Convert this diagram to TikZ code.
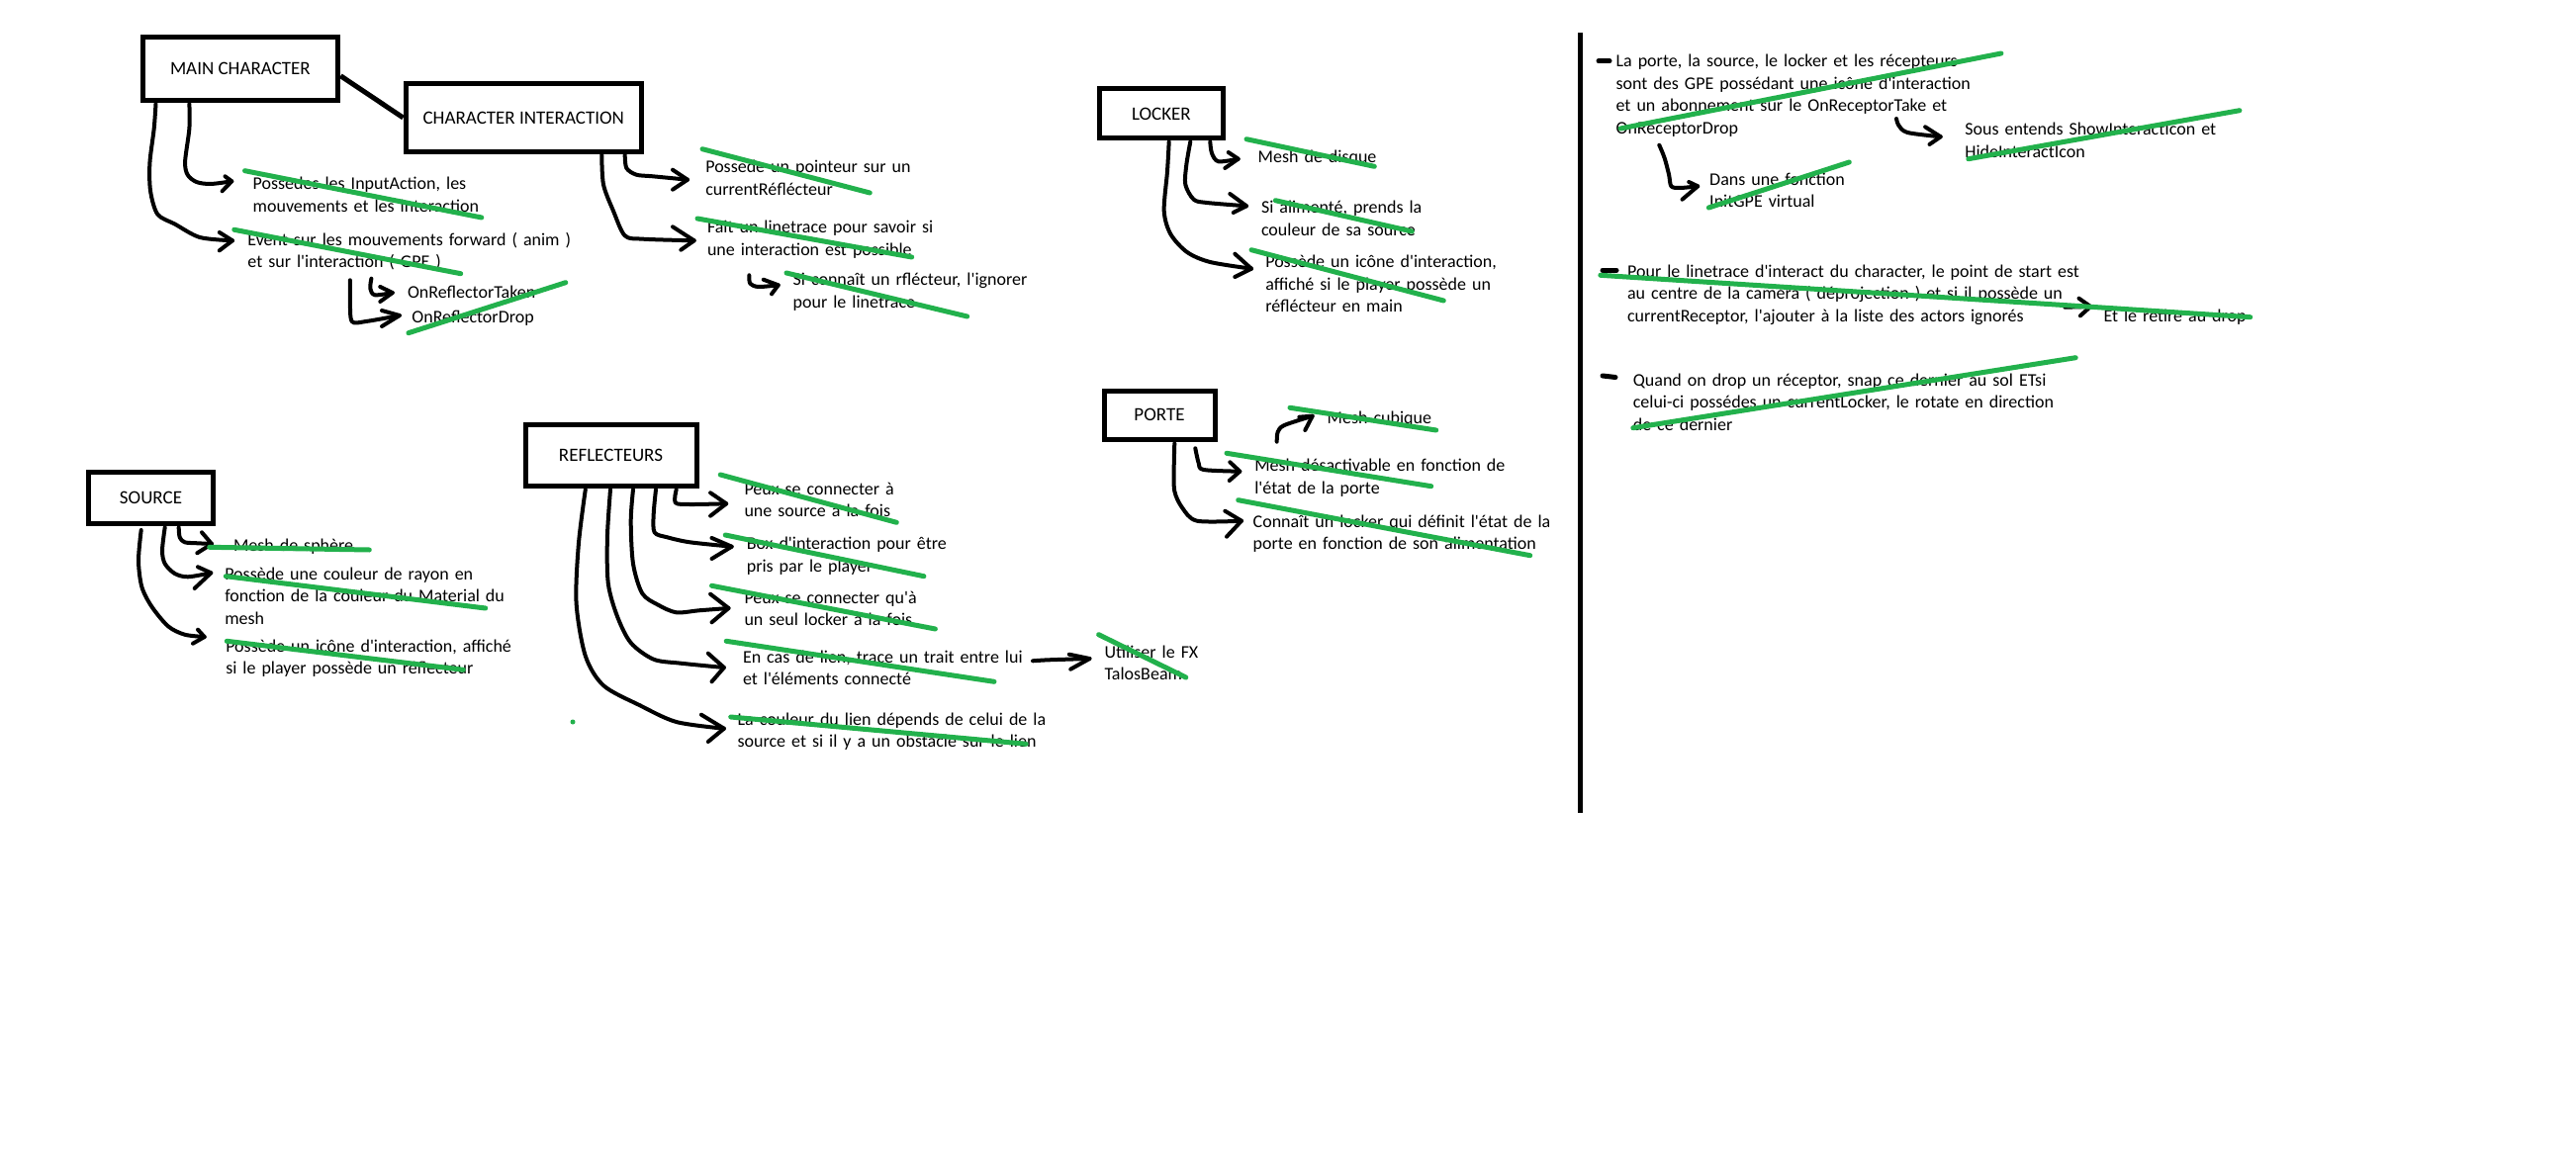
\documentclass[tikz,border=0pt]{standalone}
\usepackage{fontspec}
\newfontfamily\calibri{Carlito}
\newcommand{\bodyfont}{\calibri\fontsize{18}{22.6}\selectfont}
\newcommand{\boxfont}{\calibri\fontsize{19}{22.6}\selectfont}
\definecolor{strikegreen}{HTML}{22B14C}
\begin{document}
\begin{tikzpicture}[x=1pt,y=-1pt,
  box/.style={draw, line width=5pt, inner sep=0pt, font=\boxfont},
  note/.style={anchor=base west, inner sep=0pt, outer sep=0pt, align=left, text width=700pt, font=\bodyfont},
  pen/.style={line width=4pt, line cap=round, line join=round},
  strike/.style={draw=strikegreen, line width=5pt, line cap=round},
  sep/.style={line width=5pt},
  bullet/.style={line width=5pt, line cap=round}]
\useasboundingbox[fill=white] (0,0) rectangle (2604,1174);

% ---------- boxes ----------
\node[box, minimum width=197.8pt, minimum height=64.3pt] (main) at (242.9,69.7) {MAIN CHARACTER};
\node[box, minimum width=238.5pt, minimum height=68.4pt] (ci) at (529.3,119) {CHARACTER INTERACTION};
\node[box, minimum width=125.7pt, minimum height=50pt] (locker) at (1173.9,115) {LOCKER};
\node[box, minimum width=112pt, minimum height=48.7pt] (porte) at (1172,419.7) {PORTE};
\node[box, minimum width=126.4pt, minimum height=52pt] (source) at (152.5,503.7) {SOURCE};
\node[box, minimum width=173pt, minimum height=62pt] (refl) at (617.5,460.3) {REFLECTEURS};

\draw[sep] (main.east) ++(0,7) -- (ci.west);

% ---------- notes ----------
\node[note] (mc1) at (255.7,191.7) {Possedes les InputAction, les\\mouvements et les interaction};
\node[note] (mc2) at (250.4,248.3) {Event sur les mouvements forward ( anim )\\et sur l'interaction ( GPE )};
\node[note] (mc3) at (412,301.7) {OnReflectorTaken};
\node[note] (mc4) at (416.4,326) {OnReflectorDrop};
\node[note] (ci1) at (713.3,175) {Possede un pointeur sur un\\currentRéflécteur};
\node[note] (ci2) at (715,235.7) {Fait un linetrace pour savoir si\\une interaction est possible};
\node[note] (ci3) at (801.7,289) {Si connaît un rflécteur, l'ignorer\\pour le linetrace};
\node[note] (lk1) at (1271.7,165) {Mesh de disque};
\node[note] (lk2) at (1275,215.7) {Si alimenté, prends la\\couleur de sa source};
\node[note] (lk3) at (1279.3,270.7) {Possède un icône d'interaction,\\affiché si le player possède un\\réflécteur en main};
\node[note] (pt1) at (1341.7,428.3) {Mesh cubique};
\node[note] (pt2) at (1268.3,476.7) {Mesh désactivable en fonction de\\l'état de la porte};
\node[note] (pt3) at (1266.7,533.3) {Connaît un locker qui définit l'état de la\\porte en fonction de son alimentation};
\node[note] (sc1) at (236,557.7) {Mesh de sphère};
\node[note] (sc2) at (227.3,586) {Possède une couleur de rayon en\\fonction de la couleur du Material du\\mesh};
\node[note] (sc3) at (228.3,659.3) {Possède un icône d'interaction, affiché\\si le player possède un réflecteur};
\node[note] (rf1) at (752.5,500) {Peux se connecter à\\une source à la fois};
\node[note] (rf2) at (754.8,555.7) {Box d'interaction pour être\\pris par le player};
\node[note] (rf3) at (752.5,610) {Peux se connecter qu'à\\un seul locker à la fois};
\node[note] (rf4) at (751,670) {En cas de lien, trace un trait entre lui\\et l'éléments connecté};
\node[note] (rf5) at (745.6,733.3) {La couleur du lien dépends de celui de la\\source et si il y a un obstacle sur le lien};
\node[note] (rf6) at (1116.6,665) {Utiliser le FX\\TalosBeam};
\node[note] (gn1) at (1633.6,67.7) {La porte, la source, le locker et les récepteurs\\sont des GPE possédant une icône d'interaction\\et un abonnement sur le OnReceptorTake et\\OnReceptorDrop};
\node[note] (gn2) at (1986.3,136.7) {Sous entends ShowInteractIcon et\\HideInteractIcon};
\node[note] (gn3) at (1728.2,187.3) {Dans une fonction\\InitGPE virtual};
\node[note] (gn4) at (1645.1,280) {Pour le linetrace d'interact du character, le point de start est\\au centre de la caméra ( déprojection ) et si il possède un\\currentReceptor, l'ajouter à la liste des actors ignorés};
\node[note] (gn5) at (2126.5,325) {Et le retire au drop};
\node[note] (gn6) at (1650.8,390) {Quand on drop un réceptor, snap ce dernier au sol ETsi\\celui-ci possédes un currentLocker, le rotate en direction\\de ce dernier};

% ---------- separator and bullets ----------
\draw[sep] (1597.9,33) -- (1597.9,822);
\draw[bullet] (1616,61.7) -- (1627,61.7);
\draw[bullet] (1620,273.3) -- (1634,273.3);
\draw[bullet] (1620,380) -- (1633,381.5);

% ---------- hand-drawn arrows: main character ----------
\draw[pen] plot[smooth] coordinates {(157.5,105) (155.7,130) (151.4,165) (152.1,193.3) (159.3,216.7) (177,226.7) (202,240) (235,243.3)};
\draw[pen] (221.8,235) -- (235,243.3) -- (221.8,253.3);
\draw[pen] plot[smooth] coordinates {(191.4,105) (191.4,130) (187.1,163.3) (189.6,176.7) (198.6,184) (212.9,186) (234.3,183.3)};
\draw[pen] (227.5,178.3) -- (234.3,183.3) -- (224.6,193.3);
\draw[pen] plot[smooth] coordinates {(375.4,281.7) (374.3,291.7) (378.9,298.3) (396.8,296)};
\draw[pen] (384.3,290) -- (396.8,296) -- (384.3,305);
\draw[pen] plot[smooth] coordinates {(353.9,283.3) (353.9,303.3) (355.7,325) (370,325) (403.9,319)};
\draw[pen] (386,314) -- (403.9,319) -- (386,330);

% ---------- character interaction ----------
\draw[pen] plot[smooth] coordinates {(631.7,156.7) (633.3,170) (643.3,176.7) (660,178.3) (695,181.7)};
\draw[pen] (680,171.7) -- (695,181.7) -- (680,191.7);
\draw[pen] plot[smooth] coordinates {(608.3,156.7) (610,186.7) (620,213.3) (631.7,238.3) (650,241.7) (701.7,243.3)};
\draw[pen] (680,229.3) -- (701.7,243.3) -- (688.3,252.7);
\draw[pen] plot[smooth] coordinates {(757.3,278.3) (758.3,286.7) (766.7,290) (786.7,288.3)};
\draw[pen] (771.7,282.7) -- (786.7,288.3) -- (780,297.3);

% ---------- locker ----------
\draw[pen] plot[smooth] coordinates {(1223.3,143.3) (1225,155) (1231.7,163.3) (1251.7,160.7)};
\draw[pen] (1241.7,154) -- (1251.7,160.7) -- (1238.3,170);
\draw[pen] plot[smooth] coordinates {(1203.3,143.3) (1199.3,166.7) (1198.3,186.7) (1206.7,201.7) (1220,205) (1260,208.3)};
\draw[pen] (1243.3,196) -- (1260,208.3) -- (1246.7,215);
\draw[pen] plot[smooth] coordinates {(1181.7,143.3) (1180,173.3) (1176.7,213.3) (1183.3,236.7) (1200,255) (1223.3,265) (1265,271.7)};
\draw[pen] (1248.3,256.7) -- (1265,271.7) -- (1248.3,280);

% ---------- porte ----------
\draw[pen] plot[smooth] coordinates {(1290.7,446.7) (1291.7,436.7) (1298.3,430) (1326.7,420.7)};
\draw[pen] (1313.3,421.7) -- (1326.7,420.7) -- (1319.3,435);
\draw[pen] plot[smooth] coordinates {(1208.3,453.3) (1211.7,468.3) (1216.7,475) (1253.3,476.7)};
\draw[pen] (1243.3,467.3) -- (1253.3,476.7) -- (1242.7,486);
\draw[pen] plot[smooth] coordinates {(1187.3,448.3) (1186.7,473.3) (1187.3,496.7) (1195,513.3) (1210,526.7) (1255,526.7)};
\draw[pen] (1238.3,516.7) -- (1255,526.7) -- (1240,542.7);

% ---------- source ----------
\draw[pen] plot[smooth] coordinates {(180.7,533.3) (181.7,543.3) (186.7,548.3) (200,549.3) (214,550)};
\draw[pen] (204,538.3) -- (214,550) -- (199.3,559.3);
\draw[pen] plot[smooth] coordinates {(166.7,533.3) (164,556.7) (166.7,570) (176.7,580) (190,583.3) (213.3,579.3)};
\draw[pen] (200,573.3) -- (213.3,579.3) -- (196.7,595);
\draw[pen] plot[smooth] coordinates {(142.7,536) (140,566.7) (143.3,593.3) (153.3,613.3) (170,633.3) (186.7,641.7) (206.7,644)};
\draw[pen] (200,636.7) -- (206.7,644) -- (195,650.7);

% ---------- reflecteurs ----------
\draw[pen] plot[smooth] coordinates {(683.7,495) (682.7,508.3) (697.4,510) (734.2,509.3)};
\draw[pen] (718.1,498.3) -- (734.2,509.3) -- (718.1,521.7);
\draw[pen] plot[smooth] coordinates {(663,495) (660.7,520) (661.6,538.3) (674.5,543.3) (697.4,548.3) (739.7,552.7)};
\draw[pen] (719.5,544) -- (739.7,552.7) -- (719.5,565);
\draw[pen] plot[smooth] coordinates {(640,495) (637.7,526.7) (640,570) (649.2,600) (665.3,611.7) (683.7,619.3) (706.6,617.3) (736.5,615)};
\draw[pen] (718.1,600.7) -- (736.5,615) -- (719.5,629.3);
\draw[pen] plot[smooth] coordinates {(617,495) (613.9,543.3) (614.8,590) (624,623.3) (637.7,650) (660.7,666.7) (688.2,670.7) (731.9,675)};
\draw[pen] (715.8,660.7) -- (731.9,675) -- (719.5,689.3);
\draw[pen] plot[smooth] coordinates {(591.8,495) (584.9,550) (582.6,610) (591.8,663.3) (610.2,693.3) (646.9,713.3) (683.7,730) (731.9,736.7)};
\draw[pen] (708.9,722.7) -- (731.9,736.7) -- (715.8,750);
\draw[pen] plot[smooth] coordinates {(1044,668.3) (1060.1,667.3) (1101.5,666)};
\draw[pen] (1080.8,661.7) -- (1101.5,666) -- (1082.2,676.7);

% ---------- general notes ----------
\draw[pen] plot[smooth] coordinates {(1917,120) (1919.3,126.7) (1928.2,134) (1961.7,138.3)};
\draw[pen] (1946.1,128.3) -- (1961.7,138.3) -- (1950.5,146);
\draw[pen] plot[smooth] coordinates {(1677.3,146.7) (1682.7,160) (1687.1,176.7) (1689.4,188.3) (1698.3,190) (1716.2,188.3)};
\draw[pen] (1707.2,184) -- (1716.2,188.3) -- (1700.5,201.7);
\draw[pen] (2087.3,310.7) -- (2113.3,310);
\draw[pen] (2101.5,301.7) -- (2113.3,310) -- (2102.9,319.3);

% ---------- green strike-throughs ----------
\draw[strike] (247.5,172.7) -- (486.8,220);
\draw[strike] (236.8,232.3) -- (465.7,276.7);
\draw[strike] (412.9,336.7) -- (571.8,285.7);
\draw[strike] (710,150.7) -- (879.3,195);
\draw[strike] (705,221) -- (921.7,260);
\draw[strike] (795,276) -- (977.7,320);
\draw[strike] (1260,140.7) -- (1389.3,168.3);
\draw[strike] (1289.3,202.7) -- (1427.3,234);
\draw[strike] (1265,252.7) -- (1459.3,304);
\draw[strike] (1304,412.3) -- (1451.7,435);
\draw[strike] (1240,458.3) -- (1446.7,491.7);
\draw[strike] (1251.7,505.7) -- (1546.7,561.7);
\draw[strike] (211.7,553.3) -- (373.3,556);
\draw[strike] (228.3,582.7) -- (490.7,615);
\draw[strike] (229.3,648.3) -- (468.3,677.3);
\draw[strike] (728.2,480) -- (906.3,528.3);
\draw[strike] (733.2,541) -- (933.9,582.7);
\draw[strike] (719.5,592.3) -- (945.4,636);
\draw[strike] (734.2,648.3) -- (1005,689.3);
\draw[strike] (738.7,725) -- (1037.2,752.3);
\draw[strike] (1110.6,641.7) -- (1198.8,685);
\fill[strikegreen] (579,730) circle (2.5pt);
\draw[strike] (1638,130) -- (2022.9,54);
\draw[strike] (1989.8,160.7) -- (2263.9,111.7);
\draw[strike] (1727.3,210) -- (1869.3,164);
\draw[strike] (1617.8,278.3) -- (2274.7,320.7);
\draw[strike] (1650.8,432.7) -- (2098.2,361.7);
\end{tikzpicture}
\end{document}
